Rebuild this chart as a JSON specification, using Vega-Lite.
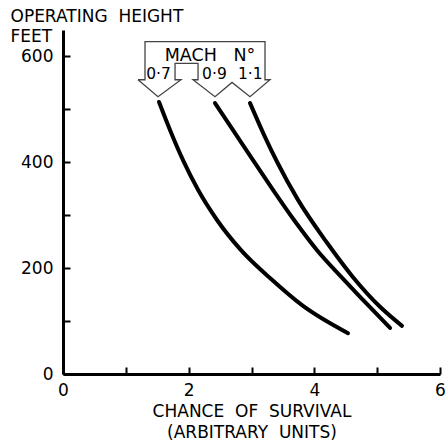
{
  "$schema": "https://vega.github.io/schema/vega-lite/v6.json",
  "width": 377,
  "height": 344,
  "autosize": "none",
  "padding": {"left": 63, "top": 30, "right": 5, "bottom": 68},
  "background": "white",
  "config": {
    "view": {"stroke": null},
    "font": "DejaVu Sans",
    "axis": {"grid": false, "domainColor": "black", "domainWidth": 3, "tickColor": "black", "tickWidth": 2, "labelColor": "black", "titleColor": "black", "labelFont": "DejaVu Sans", "titleFont": "DejaVu Sans", "titleFontWeight": "normal"}
  },
  "datasets": {
    "curves": [
      {"mach": "0.7", "x": 1.528, "y": 514},
      {"mach": "0.7", "x": 1.703, "y": 461},
      {"mach": "0.7", "x": 1.91, "y": 404},
      {"mach": "0.7", "x": 2.149, "y": 348},
      {"mach": "0.7", "x": 2.451, "y": 291},
      {"mach": "0.7", "x": 2.833, "y": 234},
      {"mach": "0.7", "x": 3.326, "y": 178},
      {"mach": "0.7", "x": 3.804, "y": 130},
      {"mach": "0.7", "x": 4.536, "y": 77},
      {"mach": "0.9", "x": 2.419, "y": 512},
      {"mach": "0.9", "x": 2.706, "y": 461},
      {"mach": "0.9", "x": 3.024, "y": 404},
      {"mach": "0.9", "x": 3.342, "y": 348},
      {"mach": "0.9", "x": 3.677, "y": 291},
      {"mach": "0.9", "x": 4.043, "y": 234},
      {"mach": "0.9", "x": 4.473, "y": 178},
      {"mach": "0.9", "x": 4.855, "y": 130},
      {"mach": "0.9", "x": 5.205, "y": 87},
      {"mach": "1.1", "x": 2.976, "y": 512},
      {"mach": "1.1", "x": 3.199, "y": 452},
      {"mach": "1.1", "x": 3.406, "y": 401},
      {"mach": "1.1", "x": 3.74, "y": 329},
      {"mach": "1.1", "x": 4.202, "y": 248},
      {"mach": "1.1", "x": 4.616, "y": 183},
      {"mach": "1.1", "x": 5.045, "y": 127},
      {"mach": "1.1", "x": 5.395, "y": 91}
    ],
    "outline": [
      {"i": 1, "x": 1.194, "y": 556},
      {"i": 2, "x": 1.305, "y": 556},
      {"i": 3, "x": 1.305, "y": 628},
      {"i": 4, "x": 3.215, "y": 628},
      {"i": 5, "x": 3.215, "y": 556},
      {"i": 6, "x": 3.295, "y": 556},
      {"i": 7, "x": 2.976, "y": 524},
      {"i": 8, "x": 2.69, "y": 551},
      {"i": 9, "x": 2.419, "y": 524},
      {"i": 10, "x": 2.069, "y": 556},
      {"i": 11, "x": 2.149, "y": 556},
      {"i": 12, "x": 2.149, "y": 587},
      {"i": 13, "x": 1.783, "y": 587},
      {"i": 14, "x": 1.783, "y": 556},
      {"i": 15, "x": 1.878, "y": 556},
      {"i": 16, "x": 1.512, "y": 524},
      {"i": 17, "x": 1.194, "y": 556}
    ],
    "labels": [
      {"t": "MACH\u00a0\u00a0 N°", "x": 2.34, "y": 601, "s": 17.5},
      {"t": "0·7", "x": 1.52, "y": 566, "s": 15.5},
      {"t": "0·9", "x": 2.41, "y": 566, "s": 15.5},
      {"t": "1·1", "x": 2.98, "y": 566, "s": 15.5}
    ]
  },
  "encoding": {
    "x": {"field": "x", "type": "quantitative", "scale": {"domain": [0, 6], "nice": false},
      "axis": {"values": [0, 1, 2, 3, 4, 5, 6], "tickSize": -7, "labelPadding": 15, "labelFontSize": 17, "labelExpr": "datum.value % 2 === 0 ? datum.label : ''", "labelFlush": false,
        "title": ["CHANCE\u00a0 OF\u00a0 SURVIVAL", "(ARBITRARY\u00a0 UNITS)"], "titleFontSize": 17, "titleLineHeight": 21, "titlePadding": 5}},
    "y": {"field": "y", "type": "quantitative", "scale": {"domain": [0, 650], "nice": false},
      "axis": {"values": [0, 100, 200, 300, 400, 500, 600], "tickSize": -7, "labelPadding": 17, "labelFontSize": 17, "labelExpr": "datum.value % 200 === 0 ? datum.label : ''",
        "title": ["OPERATING\u00a0 HEIGHT", "FEET"], "titleAngle": 0, "titleAlign": "left", "titleBaseline": "middle", "titleX": -53, "titleY": -14, "titleFontSize": 17, "titleLineHeight": 20}}
  },
  "layer": [
    {"data": {"name": "curves"}, "mark": {"type": "line", "interpolate": "monotone", "color": "black", "strokeWidth": 4, "strokeCap": "round"},
      "encoding": {"detail": {"field": "mach"}}},
    {"data": {"name": "outline"}, "mark": {"type": "line", "color": "#444", "strokeWidth": 1.3, "clip": false},
      "encoding": {"order": {"field": "i"}}},
    {"data": {"name": "labels"}, "mark": {"type": "text", "color": "black", "clip": false},
      "encoding": {"text": {"field": "t"}, "size": {"field": "s", "type": "quantitative", "scale": null}}}
  ]
}
